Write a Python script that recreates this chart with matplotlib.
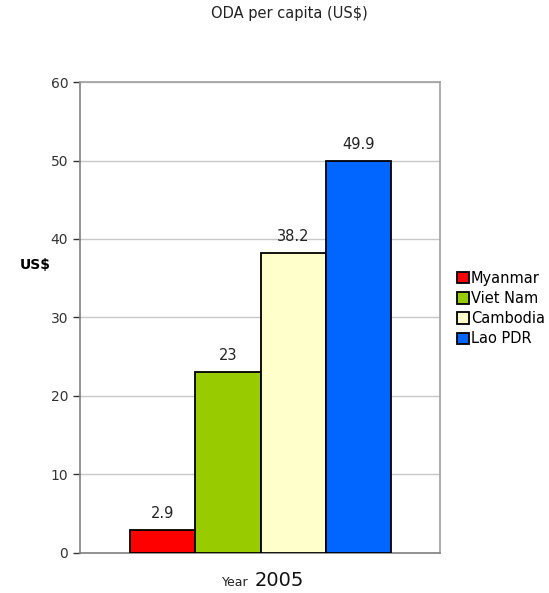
import matplotlib
matplotlib.use("Agg")
import matplotlib.pyplot as plt
import numpy as np

countries = ["Myanmar", "Viet Nam", "Cambodia", "Lao PDR"]
values = [2.9, 23, 38.2, 49.9]
value_labels = ["2.9", "23", "38.2", "49.9"]
colors = ["#ff0000", "#99cc00", "#ffffcc", "#0066ff"]
yticks = [0, 10, 20, 30, 40, 50, 60]

fig = plt.figure(figsize=(5.49, 5.93), dpi=100)
ax = fig.add_axes([0.1457, 0.0675, 0.6558, 0.7942])

x = np.arange(len(countries))
bars = ax.bar(x, values, width=1.0, color=colors, edgecolor="black", linewidth=1.3,
              label=countries, zorder=3)
for xi, v, lab in zip(x, values, value_labels):
    ax.text(xi, v + 1.2, lab, ha="center", va="bottom", fontsize=10.5, color="#222222")

ax.set_xlim(-1.27, 4.25)
ax.set_ylim(0, 60)
ax.set_yticks(yticks)
ax.set_xticks([])
ax.tick_params(axis="y", labelsize=10, colors="#333333", length=5, width=1, direction="out")
ax.yaxis.grid(True, color="#c8c8c8", linewidth=1, zorder=0)
for s in ax.spines.values():
    s.set_color("#a0a0a0")
    s.set_linewidth(1.2)
ax.spines["left"].set_color("#808080")
ax.spines["bottom"].set_color("#808080")

fig.text(0.528, 0.978, "ODA per capita (US$)", ha="center", va="center", fontsize=10.5, color="#222222")
fig.text(0.064, 0.553, "US$", ha="center", va="center", fontsize=10, fontweight="bold")
fig.text(0.453, 0.012, "Year", ha="right", va="baseline", fontsize=9, color="#222222")
fig.text(0.463, 0.012, "2005", ha="left", va="baseline", fontsize=14, color="#111111")

fig.legend(handles=bars, labels=countries, loc="upper left", bbox_to_anchor=(0.822, 0.553),
           frameon=False, fontsize=10.5, handlelength=0.8, handleheight=0.8,
           handletextpad=0.15, labelspacing=0.35, borderaxespad=0)

fig.savefig("out.png", dpi=100)
